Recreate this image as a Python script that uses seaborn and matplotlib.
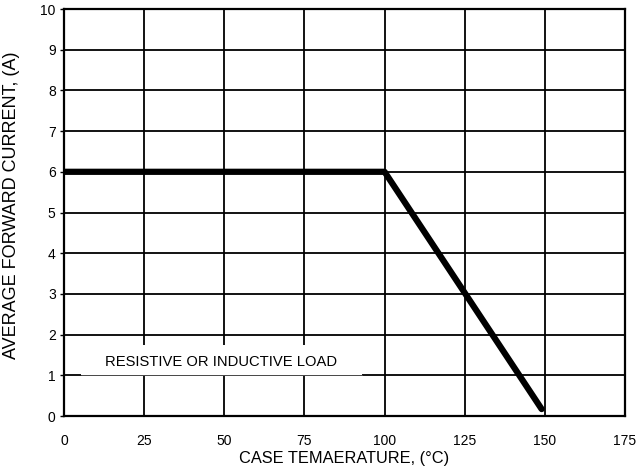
import matplotlib
matplotlib.use("Agg")
import matplotlib.pyplot as plt
import seaborn as sns
import pandas as pd

temp_c = [0, 100, 149]
current_a = [6.0, 6.0, 0.17]
x_ticks = [0, 25, 50, 75, 100, 125, 150, 175]
y_ticks = [0, 1, 2, 3, 4, 5, 6, 7, 8, 9, 10]
note = "RESISTIVE OR INDUCTIVE LOAD"

sns.set_theme(style="white")
plt.rcParams['font.family'] = ['Liberation Sans', 'DejaVu Sans']

fig = plt.figure(figsize=(6.36, 4.74), dpi=100)
ax = fig.add_axes([64/636, 1 - 416/474, (625-64)/636, (416-9)/474])

df = pd.DataFrame({"T": temp_c, "I": current_a})
sns.lineplot(data=df, x="T", y="I", ax=ax, color="black", linewidth=4.5,
             solid_capstyle="round", solid_joinstyle="round", zorder=5)

ax.set_xlim(0, 175)
ax.set_ylim(0, 10)
ax.set_xticks(x_ticks)
ax.set_yticks(y_ticks)
ax.grid(True, color="black", linewidth=1.3)
ax.set_axisbelow(True)
for s in ax.spines.values():
    s.set_color("black")
    s.set_linewidth(1.6)
ax.tick_params(axis="both", colors="black", labelsize=10, length=3, width=1, direction="out",
               left=True, bottom=False, pad=3)
ax.tick_params(axis="x", pad=10)
ax.set_xlabel("CASE TEMAERATURE, (°C)", fontsize=11.8, color="black", labelpad=2)
ax.set_ylabel("AVERAGE FORWARD CURRENT, (A)", fontsize=13, color="black")
ax.yaxis.set_label_coords(-44/561, 0.518)

ax.fill_between([5.3, 93], [1.0, 1.0], [1.74, 1.74], color="white", zorder=3, linewidth=0)
ax.plot([5.3, 93], [1.0, 1.0], color="#555555", linewidth=0.6, zorder=4)
ax.text(49, 1.33, note, ha="center", va="center", fontsize=10.6, color="black", zorder=6)

fig.savefig("out.png", dpi=100)
